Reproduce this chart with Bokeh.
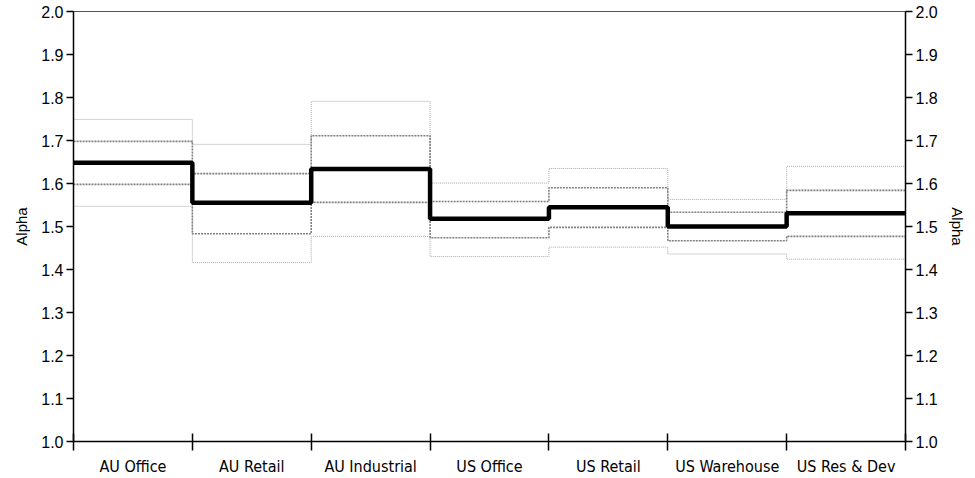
from bokeh.plotting import figure
from bokeh.models import FixedTicker, LinearAxis, Range1d, PrintfTickFormatter
from bokeh.embed import file_html
from bokeh.resources import INLINE

categories = ["AU Office", "AU Retail", "AU Industrial", "US Office", "US Retail", "US Warehouse", "US Res & Dev"]
alpha_mid = [1.648, 1.555, 1.634, 1.518, 1.545, 1.500, 1.531]
inner_upper = [1.698, 1.623, 1.711, 1.558, 1.590, 1.533, 1.584]
inner_lower = [1.598, 1.483, 1.556, 1.474, 1.498, 1.467, 1.477]
outer_upper = [1.749, 1.691, 1.791, 1.601, 1.635, 1.563, 1.640]
outer_lower = [1.547, 1.416, 1.477, 1.430, 1.452, 1.436, 1.424]
y_ticks = [1.0, 1.1, 1.2, 1.3, 1.4, 1.5, 1.6, 1.7, 1.8, 1.9, 2.0]

n = len(categories)
xs = list(range(n + 1))
centers = [i + 0.5 for i in range(n)]

p = figure(width=975, height=478, output_backend="svg", toolbar_location=None,
           x_range=Range1d(0, n), y_range=Range1d(1.0, 2.0),
           min_border_left=73, min_border_right=70, min_border_top=11, min_border_bottom=37,
           y_axis_location=None)
p.grid.visible = False
p.outline_line_color = "#555555"
p.outline_line_width = 1
p.background_fill_color = "white"
p.border_fill_color = "white"

def ext(v):
    return list(v) + [v[-1]]

p.step(xs, ext(outer_upper), mode="after", line_color="#a8a8a8", line_width=1, line_dash="1 1")
p.step(xs, ext(outer_lower), mode="after", line_color="#a8a8a8", line_width=1, line_dash="1 1")
p.step(xs, ext(inner_upper), mode="after", line_color="#808080", line_width=1.6, line_dash="2 1")
p.step(xs, ext(inner_lower), mode="after", line_color="#808080", line_width=1.6, line_dash="2 1")
p.step(xs, ext(alpha_mid), mode="after", line_color="black", line_width=4.5)

xa = p.xaxis[0]
xa.ticker = FixedTicker(ticks=centers, minor_ticks=xs)
xa.major_label_overrides = {c: lab for c, lab in zip(centers, categories)}
xa.major_tick_in = 0
xa.major_tick_out = 0
xa.minor_tick_in = 8
xa.minor_tick_out = 9
xa.minor_tick_line_color = "black"
xa.minor_tick_line_width = 1.5
xa.axis_line_color = "black"
xa.axis_line_width = 1.5
xa.major_label_standoff = 6
xa.major_label_text_font = "Liberation Sans Narrow, DejaVu Sans Condensed, Liberation Sans"
xa.major_label_text_font_size = "16px"
xa.major_label_text_color = "black"

for loc in ("left", "right"):
    ya = LinearAxis(ticker=FixedTicker(ticks=y_ticks), formatter=PrintfTickFormatter(format="%.1f"),
                    axis_label="Alpha")
    ya.major_tick_in = 0
    ya.major_tick_out = 7
    ya.minor_tick_in = 0
    ya.minor_tick_out = 0
    ya.axis_line_color = "black"
    ya.axis_line_width = 1.5
    ya.major_tick_line_width = 1.5
    ya.major_label_standoff = 3
    ya.major_label_text_font = "Liberation Sans"
    ya.major_label_text_font_size = "16px"
    ya.major_label_text_color = "black"
    ya.axis_label_text_font = "Liberation Sans"
    ya.axis_label_text_font_size = "15px"
    ya.axis_label_text_font_style = "normal"
    ya.axis_label_text_color = "black"
    ya.axis_label_standoff = 8
    p.add_layout(ya, loc)

open("out.html", "w").write(file_html(p, INLINE))
